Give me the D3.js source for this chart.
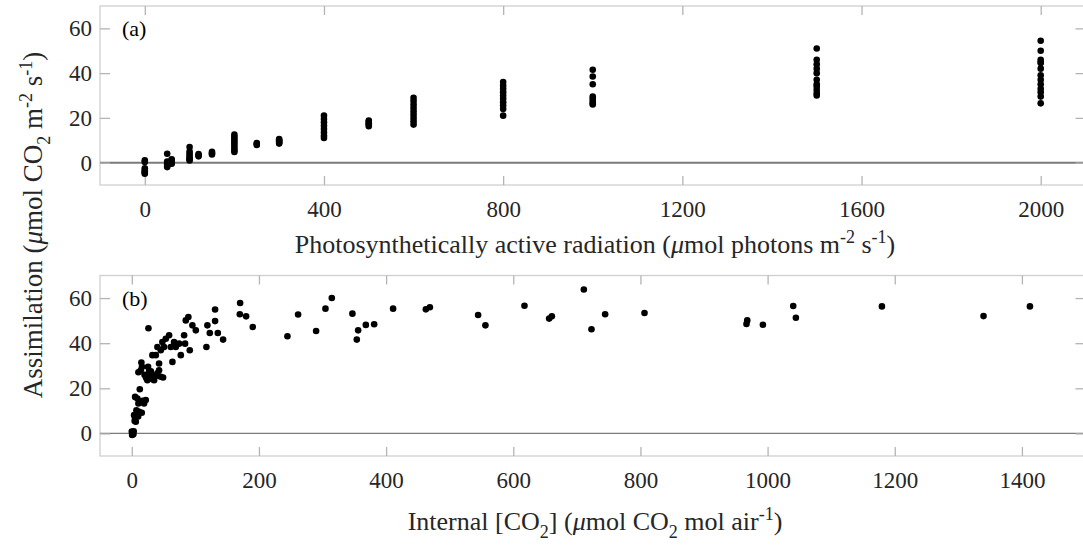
<!DOCTYPE html>
<meta charset="utf-8">
<script src="https://cdn.jsdelivr.net/npm/d3@7/dist/d3.min.js"></script>
<body style="margin:0;background:#fff">
<script>

// (a) light response: assimilation measured at each PAR level
var parLevels = [0, 50, 60, 100, 120, 150, 200, 250, 300, 400, 500, 600, 800, 1000, 1500, 2000];
var assimAtPar = [
  [1, 0.3, -2.5, -3.5, -4, -4.5, -5],
  [4, 0.5, -0.5, -1, -1.5, -2],
  [1.5, 1, 0.5, 0, -0.5],
  [7, 5, 4, 3, 2, 1.5, 1],
  [3.8, 3.3, 2.8],
  [4.8, 4.2, 3.6],
  [12.5, 11.5, 10.5, 9.5, 8.5, 7.5, 6.5, 5.5, 4.8],
  [8.8, 8.3, 7.9],
  [10.5, 10, 9.5, 9, 8.5],
  [21, 19.5, 18, 16.5, 15, 13.5, 12, 11],
  [18.8, 18.2, 17.6, 17, 16.3],
  [29, 27.5, 26, 24.5, 23, 21.5, 20, 18.5, 17],
  [36, 34.5, 33, 31.5, 30, 28.5, 27, 25.5, 24, 21],
  [41.5, 38.5, 35, 29.5, 28.5, 27.5, 26.5, 26],
  [51, 46, 44, 42, 40, 37, 35, 34, 32.5, 31, 30],
  [54.5, 50, 46, 45, 44.5, 42, 39, 37, 35, 33, 31.5, 29.5, 26.5]
];

// (b) CO2 response: internal CO2 vs assimilation
var ciValues = [0, 1, 2.5, 0.5, 1.5, 3, 6.3, 5.2, 3.6, 8.8, 11.5, 7.3, 15.7, 4.5, 10,
  5.2, 8.8, 14.2, 22, 19.3, 10.4, 17, 12.6, 15.1, 26.2, 16, 14.2, 10.4,
  22, 24.5, 27.2, 25.6, 29.9, 32.4, 35.1, 40.3, 45.6, 49.2, 42.9, 20, 23, 27, 30, 33, 38,
  32.4, 37.8, 42.9, 45.6, 40.3, 48.1, 53.5, 58.7, 50.8, 61.3, 63.9, 66.5, 69.2, 74.4,
  77.1, 82.3, 83.8, 84.9, 89, 91.2, 95.3, 100.7, 117.4, 118.9, 122.7, 131, 131, 135.3,
  143.6, 170.4, 169.9, 179.8, 190.3, 244.8, 261.6, 289.9, 304.6, 314.6, 347, 353.9,
  356, 368.1, 381.2, 411, 462.5, 468.8, 544.7, 556.2, 617.6, 656.4, 660.7, 711, 723,
  744.5, 806.4, 968, 966.8, 992.6, 1040.3, 1044.5, 1179.8, 1339.6, 1412.6];
var assimB = [0.8, 0, -0.4, -0.7, 0.5, 1, 5.2, 6.7, 8.1, 8.9, 9.6, 10.3, 9.2, 5.5, 7.5,
  16.2, 15.5, 14, 14.8, 13.3, 13.3, 14.5, 19.6, 31.4, 46.6, 29.5, 28, 27.1,
  25.1, 23.6, 27.3, 29.5, 25.1, 25.8, 23.6, 26.6, 25.1, 24.8, 28, 26, 24.5, 26.5, 27.5, 24, 25.5,
  34.7, 34.7, 31, 36.9, 38.3, 40.5, 42, 43.5, 38.3, 38.3, 31.7, 40.5, 38.3, 39.8,
  34.7, 43.5, 39.8, 50.1, 51.6, 36.9, 47.9, 45.7, 38.3, 47.9, 44.5, 54.9, 49.8, 44.5,
  41.6, 57.8, 52.8, 51.9, 47.2, 43.1, 52.7, 45.4, 55.3, 60, 53.1, 41.6,
  45.7, 48.1, 48.4, 55.3, 55, 55.9, 52.5, 47.9, 56.6, 50.9, 51.9, 63.8, 46.2,
  52.8, 53.4, 50.1, 48.5, 48.2, 56.5, 51.3, 56.3, 52, 56.3];

var yTicks = [0, 20, 40, 60];
var parTicks = [0, 400, 800, 1200, 1600, 2000];
var ciTicks = [0, 200, 400, 600, 800, 1000, 1200, 1400];

var W = 1083, H = 548;
var left = 100, right = 1085.5;
var font = "'Liberation Serif', 'Times New Roman', serif";
var textColor = "#262626";

var svg = d3.select("body").append("svg")
    .attr("width", W).attr("height", H)
    .style("font-family", font);

var pointsA = [];
parLevels.forEach(function(p, i) {
  assimAtPar[i].forEach(function(v) { pointsA.push({x: p, y: v}); });
});
var pointsB = ciValues.map(function(c, i) { return {x: c, y: assimB[i]}; });

function panel(cfg) {
  var x = d3.scaleLinear().domain(cfg.xDomain).range([left, right]);
  var y = d3.scaleLinear().domain([-10, 70]).range([cfg.bottom, cfg.top]);
  var g = svg.append("g");

  // frame
  g.append("rect").attr("x", left).attr("y", cfg.top)
    .attr("width", right - left).attr("height", cfg.bottom - cfg.top)
    .attr("fill", "none").attr("stroke", "#cfcfcf").attr("stroke-width", 1.3);

  // zero line
  g.append("line").attr("x1", left).attr("x2", right)
    .attr("y1", y(0)).attr("y2", y(0))
    .attr("stroke", "#7a7a7a").attr("stroke-width", cfg.zeroWidth);

  g.append("g").attr("transform", "translate(0," + cfg.bottom + ")")
    .call(d3.axisBottom(x).tickValues(cfg.xTicks).tickSize(-9)
      .tickPadding(16).tickFormat(d3.format("d")));
  g.append("g").attr("transform", "translate(0," + cfg.top + ")")
    .call(d3.axisTop(x).tickValues(cfg.xTicks).tickSize(-9).tickFormat(""));
  g.append("g").attr("transform", "translate(" + left + ",0)")
    .call(d3.axisLeft(y).tickValues(yTicks).tickSize(-10).tickPadding(8));
  g.append("g").attr("transform", "translate(" + right + ",0)")
    .call(d3.axisRight(y).tickValues(yTicks).tickSize(-10).tickFormat(""));

  g.selectAll(".domain").remove();
  g.selectAll(".tick line").attr("stroke", "#b4b4b4").attr("stroke-width", 1.3);
  g.selectAll(".tick text").attr("fill", textColor)
    .style("font-family", font).style("font-size", "23px");

  g.append("g").selectAll("circle").data(cfg.points).enter().append("circle")
    .attr("cx", function(d) { return x(d.x); })
    .attr("cy", function(d) { return y(d.y); })
    .attr("r", 3.3).attr("fill", "#000");

  g.append("text").attr("x", 122).attr("y", cfg.top + 30)
    .attr("fill", "#000").style("font-size", "22px").text(cfg.tag);
  return g;
}

panel({xDomain: [-100, 2100], top: 6, bottom: 185, zeroWidth: 2,
       xTicks: parTicks, points: pointsA, tag: "(a)"});
panel({xDomain: [-50, 1500], top: 275.5, bottom: 456, zeroWidth: 1.2,
       xTicks: ciTicks, points: pointsB, tag: "(b)"});

// axis titles with sub/superscripts
function richText(sel, parts) {
  parts.forEach(function(p) {
    var t = sel.append("tspan").text(p.t);
    if (p.it) t.style("font-style", "italic");
    if (p.sub) t.attr("dy", 8).style("font-size", "18px");
    if (p.sup) t.attr("dy", -10).style("font-size", "18px");
    if (p.back) t.attr("dy", p.back);
  });
}

var titleA = svg.append("text").attr("x", 595).attr("y", 253)
  .attr("text-anchor", "middle").attr("fill", textColor).style("font-size", "26px");
richText(titleA, [
  {t: "Photosynthetically active radiation ("}, {t: "\u03bc", it: true},
  {t: "mol photons m"}, {t: "-2", sup: true}, {t: " s", back: 10},
  {t: "-1", sup: true}, {t: ")", back: 10}
]);

var titleB = svg.append("text").attr("x", 595).attr("y", 530)
  .attr("text-anchor", "middle").attr("fill", textColor).style("font-size", "26px");
richText(titleB, [
  {t: "Internal [CO"}, {t: "2", sub: true}, {t: "] (", back: -8},
  {t: "\u03bc", it: true}, {t: "mol CO"}, {t: "2", sub: true},
  {t: " mol air", back: -8}, {t: "-1", sup: true}, {t: ")", back: 10}
]);

var titleY = svg.append("text")
  .attr("transform", "translate(42,225) rotate(-90)")
  .attr("text-anchor", "middle").attr("fill", textColor).style("font-size", "27px");
richText(titleY, [
  {t: "Assimilation ("}, {t: "\u03bc", it: true}, {t: "mol CO"},
  {t: "2", sub: true}, {t: " m", back: -8}, {t: "-2", sup: true},
  {t: " s", back: 10}, {t: "-1", sup: true}, {t: ")", back: 10}
]);

</script>
</body>
